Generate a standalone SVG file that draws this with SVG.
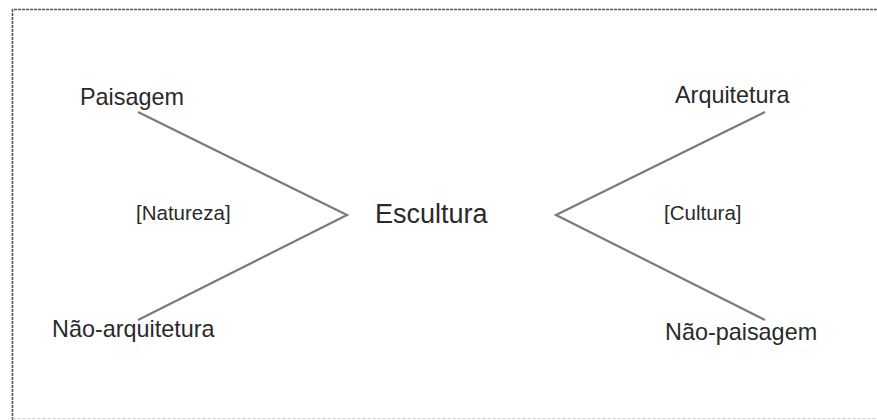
<svg xmlns="http://www.w3.org/2000/svg" width="877" height="420" viewBox="0 0 877 420">
<style>
.lbl{font-family:"Liberation Sans",Arial,sans-serif;fill:#2a2a2a;font-size:23.4px}
.sub{font-family:"Liberation Sans",Arial,sans-serif;fill:#2a2a2a;font-size:20.5px}
.main{font-family:"Liberation Sans",Arial,sans-serif;fill:#2a2a2a;font-size:27px}
.edge{stroke:#7a7a7a;stroke-width:2.2;fill:none;stroke-linejoin:miter}
</style>
<rect width="877" height="420" fill="#ffffff"/>
<g id="frame" fill="none">
<path d="M12.5 420 V9.5 H877" stroke="#555" stroke-width="1.6" stroke-dasharray="3 1"/>
<path d="M12.5 418.5 H877" stroke="#ccc" stroke-width="1" stroke-dasharray="3 2"/>
</g>
<g id="connectors">
<polyline class="edge" points="138,112 347,215 138,320"/>
<polyline class="edge" points="765,112 556,215 765,320"/>
</g>
<g id="node-escultura"><text class="main" x="375" y="223">Escultura</text></g>
<g id="node-paisagem"><text class="lbl" x="80" y="105">Paisagem</text></g>
<g id="node-nao-arquitetura"><text class="lbl" x="52" y="337">Não-arquitetura</text></g>
<g id="node-arquitetura"><text class="lbl" x="675" y="103">Arquitetura</text></g>
<g id="node-nao-paisagem"><text class="lbl" x="665" y="340">Não-paisagem</text></g>
<g id="label-natureza"><text class="sub" x="136" y="220">[Natureza]</text></g>
<g id="label-cultura"><text class="sub" x="664" y="220">[Cultura]</text></g>
</svg>
